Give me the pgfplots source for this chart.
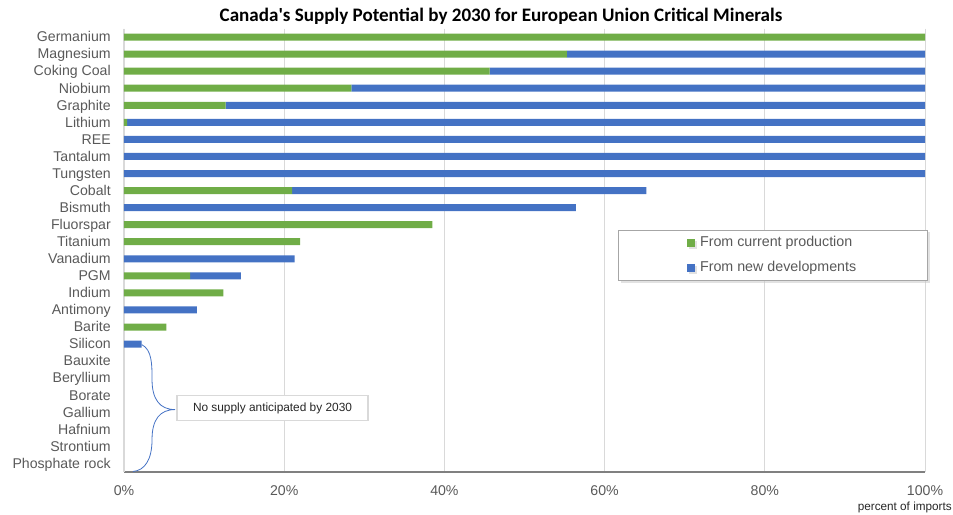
\documentclass[border=0pt]{standalone}
\usepackage{fontspec}
\setmainfont{Liberation Sans}
\newfontfamily\titlefont{Carlito}
\usepackage{pgfplots}
\usepackage{pgfplotstable}
\pgfplotsset{compat=1.18}
\usetikzlibrary{shadows}
\definecolor{cgreen}{HTML}{70AD47}
\definecolor{cblue}{HTML}{4472C4}
\definecolor{labgray}{HTML}{595959}
\definecolor{gridgray}{HTML}{D9D9D9}
\definecolor{axgray}{HTML}{808080}

\pgfplotstableread{
idx green blue
0 100 0
1 55.3 44.7
2 45.65 54.35
3 28.4 71.6
4 12.7 87.3
5 0.4 99.6
6 0 100
7 0 100
8 0 100
9 21.0 44.2
10 0 56.4
11 38.5 0
12 22.0 0
13 0 21.3
14 8.25 6.35
15 12.4 0
16 0 9.1
17 5.3 0
18 0 2.2
19 0 0
20 0 0
21 0 0
22 0 0
23 0 0
24 0 0
25 0 0
}\datatable

\begin{document}
\begin{tikzpicture}
\useasboundingbox (-93pt,-31.5pt) rectangle (621.75pt,354pt);
\begin{axis}[
  at={(0,0)}, anchor=south west,
  scale only axis, width=600.75pt, height=332.6pt,
  xbar stacked, bar width=5.25pt,
  xmin=0, xmax=100, ymin=-0.5, ymax=25.5, y dir=reverse,
  ytick={0,...,25},
  yticklabels={Germanium,Magnesium,Coking Coal,Niobium,Graphite,Lithium,REE,Tantalum,Tungsten,Cobalt,Bismuth,Fluorspar,Titanium,Vanadium,PGM,Indium,Antimony,Barite,Silicon,Bauxite,Beryllium,Borate,Gallium,Hafnium,Strontium,Phosphate rock},
  xtick={0,20,40,60,80,100},
  xticklabels={0\%,20\%,40\%,60\%,80\%,100\%},
  major tick length=0pt,
  xmajorgrids, grid style={gridgray, line width=0.75pt},
  axis lines=left, axis line style={-},
  x axis line style={draw=axgray, line width=1.3pt},
  y axis line style={draw=gridgray, line width=1pt},
  yticklabel style={font=\fontsize{10.6}{12}\selectfont, text=labgray, inner sep=0pt, xshift=-9.75pt, text height=0.716em, text depth=0pt},
  xticklabel style={font=\fontsize{10.6}{12}\selectfont, text=labgray, inner sep=0pt, yshift=-9.75pt},
  legend style={at={(0.81,0.489)}, anchor=center, draw=gray!70, fill=white,
    drop shadow={shadow xshift=2pt, shadow yshift=-2pt, fill=gray!45},
    font=\fontsize{10.7}{12}\selectfont, text=labgray, inner xsep=51pt, inner ysep=3pt, row sep=5.5pt},
  legend cell align=left,
  legend image code/.code={\fill[#1] (0pt,-3pt) rectangle (6pt,3pt); \path (8pt,0pt);},
  clip=false,
]
\addplot[fill=cgreen, draw=none] table[x=green, y=idx] {\datatable};
\addplot[fill=cblue, draw=none] table[x=blue, y=idx] {\datatable};
\legend{From current production, From new developments}
\draw[cblue, line width=0.6pt] (axis cs:2.21,18.03) .. controls (axis cs:3.5,18.33) and (axis cs:3.5,19.2) .. (axis cs:3.5,20.08) .. controls (axis cs:3.5,21.25) and (axis cs:4.49,21.84) .. (axis cs:6.37,21.84) .. controls (axis cs:4.49,21.84) and (axis cs:3.5,22.42) .. (axis cs:3.5,23.59) .. controls (axis cs:3.5,24.76) and (axis cs:2.62,25.41) .. (axis cs:1.12,25.47);
\node[draw=gridgray, line width=1.2pt, fill=white, minimum width=143pt, minimum height=18.75pt, inner sep=0pt, font=\fontsize{8.9}{10}\selectfont, text=black!85] at (axis cs:18.54,21.75) {No supply anticipated by 2030};
\end{axis}
\node[font=\titlefont\bfseries\fontsize{14.3}{16}\selectfont] at (282.75pt,341.5pt) {Canada's Supply Potential by 2030 for European Union Critical Minerals};
\node[anchor=east, inner sep=0pt, font=\fontsize{8.8}{10}\selectfont, text=black!85] at (621pt,-26.25pt) {percent of imports};
\end{tikzpicture}
\end{document}
